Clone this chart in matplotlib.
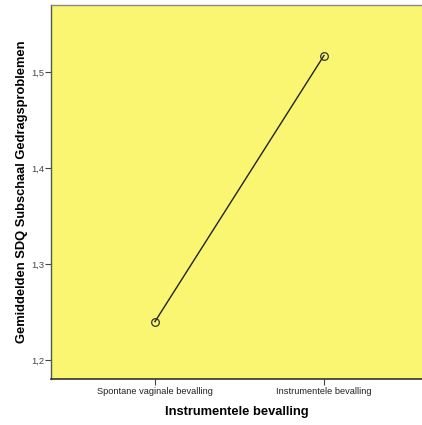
import matplotlib
matplotlib.use("Agg")
import matplotlib.pyplot as plt

categories = ["Spontane vaginale bevalling", "Instrumentele bevalling"]
means = [1.240, 1.517]
yticks = [1.2, 1.3, 1.4, 1.5]
ytick_labels = ["1,2", "1,3", "1,4", "1,5"]

plt.rcParams['font.family'] = ['Liberation Sans', 'DejaVu Sans']

fig = plt.figure(figsize=(4.22, 4.25), dpi=100)
ax = fig.add_axes([51/422, 1-379/425, 371/422, 374/425])
ax.set_facecolor('#FAF672')

x = list(range(len(categories)))
ax.plot(x, means, color='#222222', lw=1.0, marker='o', markersize=5.5,
        markerfacecolor='none', markeredgecolor='#333333', markeredgewidth=0.9)

ax.set_xlim(-0.615, 1.58)
ax.set_ylim(1.1803, 1.5696)
ax.set_xticks(x)
ax.set_xticklabels(categories, fontsize=6.7, color='#222222')
ax.set_yticks(yticks)
ax.set_yticklabels(ytick_labels, fontsize=6.7, color='#444444', rotation=0)
ax.tick_params(axis='x', length=4, width=0.8, color='#444444', pad=2)
ax.tick_params(axis='y', length=4, width=0.8, color='#444444', pad=0.5, labelrotation=0)

ax.spines['right'].set_visible(False)
ax.spines['top'].set_color('#888888')
ax.spines['top'].set_linewidth(1.0)
ax.spines['left'].set_color('#555555')
ax.spines['left'].set_linewidth(1.0)
ax.spines['bottom'].set_color('#333333')
ax.spines['bottom'].set_linewidth(1.2)

ax.set_xlabel("Instrumentele bevalling", fontsize=9.3, fontweight='bold', labelpad=7)
ax.set_ylabel("Gemiddelden SDQ Subschaal Gedragsproblemen", fontsize=9.3, fontweight='bold')
ax.yaxis.set_label_coords(-0.062, 0.5)

fig.savefig("out.png", dpi=100)
